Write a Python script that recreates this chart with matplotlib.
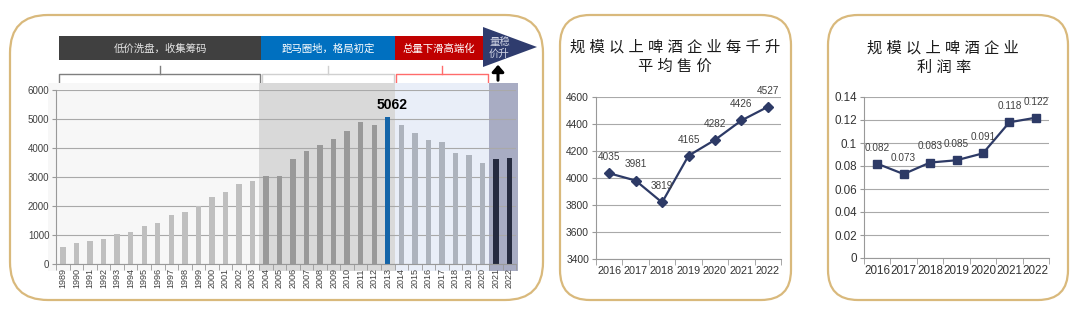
import matplotlib
matplotlib.use('Agg')
import matplotlib.pyplot as plt
from matplotlib.patches import FancyBboxPatch, Rectangle, Polygon
from matplotlib.transforms import blended_transform_factory
from matplotlib.ticker import FuncFormatter, FixedLocator

plt.rcParams['font.family'] = ['Liberation Sans', 'Noto Sans CJK SC']

# ---------------- data ----------------
years = [str(y) for y in range(1989, 2023)]
output = [596, 711, 803, 860, 1020, 1112, 1319, 1399, 1674, 1800, 2007, 2305, 2500, 2752, 2867,
          3020, 3040, 3620, 3905, 4090, 4310, 4600, 4900, 4800, 5062,
          4800, 4515, 4285, 4205, 3813, 3744, 3490,
          3617, 3652]
phase_names = ['低价洗盘，收集筹码', '跑马圈地，格局初定', '总量下滑高端化', '量稳\n价升']
phase_start = ['1989', '2004', '2014', '2021']
peak_label = '5062'

price_years = ['2016', '2017', '2018', '2019', '2020', '2021', '2022']
price = [4035, 3981, 3819, 4165, 4282, 4426, 4527]
price_title = ['规模以上啤酒企业每千升', '平均售价']

profit_years = ['2016', '2017', '2018', '2019', '2020', '2021', '2022']
profit = [0.082, 0.073, 0.083, 0.085, 0.091, 0.118, 0.122]
profit_title = ['规模以上啤酒企业', '利润率']

# ---------------- style ----------------
W, H = 1080, 316
FRAME = '#d9b97c'
NAVY = '#2d3a66'
GRID = '#a9a9a9'
TXT = '#404040'
bar_colors_phase = ['#bfbfbf', '#999999', '#adb3bd', '#262b40']
shade_colors = ['#f7f7f7', '#d9d9d9', '#e9eef8', '#a8acc3']
banner_colors = ['#404040', '#0070c0', '#c00000', '#2f3c6e']

fig = plt.figure(figsize=(W / 100, H / 100), dpi=100)
fig.patch.set_facecolor('white')


def px_axes(x0, y0, x1, y1, **kw):
    return fig.add_axes([x0 / W, 1 - y1 / H, (x1 - x0) / W, (y1 - y0) / H], **kw)


def spaced(s, sep=' '):
    return sep.join(list(s))


# background / decoration layer in pixel coordinates
bg = px_axes(0, 0, W, H, zorder=0)
bg.set_xlim(0, W)
bg.set_ylim(H, 0)
bg.axis('off')

for (x0, y0, x1, y1, r) in [(10, 15, 543, 300, 38), (560, 15, 791, 300, 30), (828, 15, 1068, 300, 30)]:
    bg.add_patch(FancyBboxPatch((x0, y0), x1 - x0, y1 - y0,
                                boxstyle=f'round,pad=0,rounding_size={r}',
                                fc='white', ec=FRAME, lw=1.6))

# ---------------- panel 1: bar chart ----------------
ax = px_axes(56.3, 90, 516.3, 264, zorder=2)
ax.patch.set_visible(False)
n = len(years)
xs = list(range(n))
idx_start = [years.index(s) for s in phase_start] + [n]

colors = []
for p in range(4):
    colors += [bar_colors_phase[p]] * (idx_start[p + 1] - idx_start[p])
peak_i = output.index(max(output))
colors[peak_i] = '#1565a8'

trans = blended_transform_factory(ax.transData, ax.transAxes)
for p in range(4):
    a = idx_start[p] - 0.5
    b = idx_start[p + 1] - 0.5
    if p == 0:
        a -= 0.6
    if p == 3:
        b += 0.1
    ax.add_patch(Rectangle((a, -0.04), b - a, 1.08, transform=trans,
                           fc=shade_colors[p], ec='none', zorder=0.1, clip_on=False))

ax.bar(xs, output, width=0.4, color=colors, zorder=2)
ax.set_xlim(-0.5, n - 0.5)
ax.set_ylim(0, 6000)
ax.set_yticks(range(0, 6001, 1000))
ax.yaxis.grid(True, color=GRID, lw=0.8, zorder=0.5)
ax.set_axisbelow(True)
ax.set_xticks(xs)
ax.set_xticklabels(years, rotation=90, fontsize=6.5, color=TXT)
ax.xaxis.set_minor_locator(FixedLocator([i - 0.5 for i in range(n + 1)]))
ax.tick_params(axis='x', which='major', length=0, pad=3)
ax.tick_params(axis='x', which='minor', length=4, color='#999999')
ax.tick_params(axis='y', length=3, color='#999999', labelsize=7, labelcolor=TXT, pad=2)
for s in ['top', 'right']:
    ax.spines[s].set_visible(False)
ax.spines['left'].set_color('#999999')
ax.spines['bottom'].set_color('#999999')
ax.annotate(peak_label, (peak_i, output[peak_i]), xytext=(3, 4), textcoords='offset points',
            ha='center', va='bottom', fontsize=10, fontweight='bold', color='black')

# banner & braces (pixel coordinates)
ban = [(59, 261), (261, 395), (395, 483)]
for k, (a, b) in enumerate(ban):
    bg.add_patch(Rectangle((a, 36), b - a, 24, fc=banner_colors[k], ec='none', zorder=3))
    bg.text((a + b) / 2, 48.5, phase_names[k], ha='center', va='center', fontsize=7.5,
            color='#e6e6e6' if k == 0 else 'white', zorder=4)
bg.add_patch(Polygon([(483, 27), (537, 47), (483, 67)], closed=True, fc=banner_colors[3], ec='none', zorder=3))
bg.text(489, 48, phase_names[3], ha='left', va='center', fontsize=7.5, color='#d0d4e4',
        linespacing=1.25, zorder=4)

brace_cols = ['#7f7f7f', '#d0d0d0', '#ff6b6b']
braces = [(59, 260), (262, 394), (396, 488)]
for (a, b), c in zip(braces, brace_cols):
    bg.plot([a, a, b, b], [82, 74, 74, 82], color=c, lw=1.0, zorder=3, solid_joinstyle='round')
    m = (a + b) / 2
    bg.plot([m, m], [74, 66], color=c, lw=1.0, zorder=3)
bg.annotate('', xy=(498, 62), xytext=(498, 83),
            arrowprops=dict(arrowstyle='-|>,head_width=0.35,head_length=0.4', color='black', lw=2.2),
            zorder=5)

# ---------------- panel 2: price line ----------------
ax2 = px_axes(596, 97, 781, 259, zorder=2)
ax2.patch.set_visible(False)
x2 = list(range(len(price_years)))
ax2.plot(x2, price, color=NAVY, lw=1.6, marker='D', ms=5.5, mfc=NAVY, mec=NAVY, zorder=3)
for xi, v in zip(x2, price):
    ax2.annotate(str(v), (xi, v), xytext=(0, 8), textcoords='offset points',
                 ha='center', va='bottom', fontsize=7.2, color=TXT)
ax2.set_xlim(-0.5, len(x2) - 0.5)
ax2.set_ylim(3400, 4600)
ax2.set_yticks(range(3400, 4601, 200))
ax2.set_xticks(x2)
ax2.set_xticklabels(price_years)
ax2.xaxis.set_minor_locator(FixedLocator([i - 0.5 for i in range(len(x2) + 1)]))
ax2.tick_params(axis='x', which='major', length=0, labelsize=7.8, labelcolor='#333333', pad=5)
ax2.tick_params(axis='x', which='minor', length=4, color='#999999')
ax2.tick_params(axis='y', length=3, color='#999999', labelsize=7.4, labelcolor='#333333', pad=2)
ax2.yaxis.grid(True, color=GRID, lw=0.8)
ax2.set_axisbelow(True)
for s in ['top', 'right']:
    ax2.spines[s].set_visible(False)
ax2.spines['left'].set_color('#999999')
ax2.spines['bottom'].set_color('#999999')
bg.text(675, 47, spaced(price_title[0]), ha='center', va='center', fontsize=11, color='#1a1a1a')
bg.text(675, 67, spaced(price_title[1]), ha='center', va='center', fontsize=11, color='#1a1a1a')

# ---------------- panel 3: profit line ----------------
ax3 = px_axes(864, 97, 1049, 258, zorder=2)
ax3.patch.set_visible(False)
x3 = list(range(len(profit_years)))
ax3.plot(x3, profit, color=NAVY, lw=1.6, marker='s', ms=6, mfc=NAVY, mec=NAVY, zorder=3)
for xi, v in zip(x3, profit):
    ax3.annotate(f'{v:.3f}', (xi, v), xytext=(0, 8), textcoords='offset points',
                 ha='center', va='bottom', fontsize=7.2, color=TXT)
ax3.set_xlim(-0.5, len(x3) - 0.5)
ax3.set_ylim(0, 0.14)
ax3.set_yticks([0, 0.02, 0.04, 0.06, 0.08, 0.10, 0.12, 0.14])
ax3.yaxis.set_major_formatter(FuncFormatter(lambda v, p: f'{round(v, 2):g}'))
ax3.set_xticks(x3)
ax3.set_xticklabels(profit_years)
ax3.xaxis.set_minor_locator(FixedLocator([i - 0.5 for i in range(len(x3) + 1)]))
ax3.tick_params(axis='x', which='major', length=0, labelsize=8.4, labelcolor='#333333', pad=5)
ax3.tick_params(axis='x', which='minor', length=4, color='#999999')
ax3.tick_params(axis='y', length=3, color='#999999', labelsize=8.4, labelcolor='#333333', pad=2)
ax3.yaxis.grid(True, color=GRID, lw=0.8)
ax3.set_axisbelow(True)
for s in ['top', 'right']:
    ax3.spines[s].set_visible(False)
ax3.spines['left'].set_color('#999999')
ax3.spines['bottom'].set_color('#999999')
bg.text(943, 48, spaced(profit_title[0]), ha='center', va='center', fontsize=11, color='#1a1a1a')
bg.text(944, 68, spaced(profit_title[1]), ha='center', va='center', fontsize=11, color='#1a1a1a')

fig.savefig('out.png', dpi=100, facecolor='white')
